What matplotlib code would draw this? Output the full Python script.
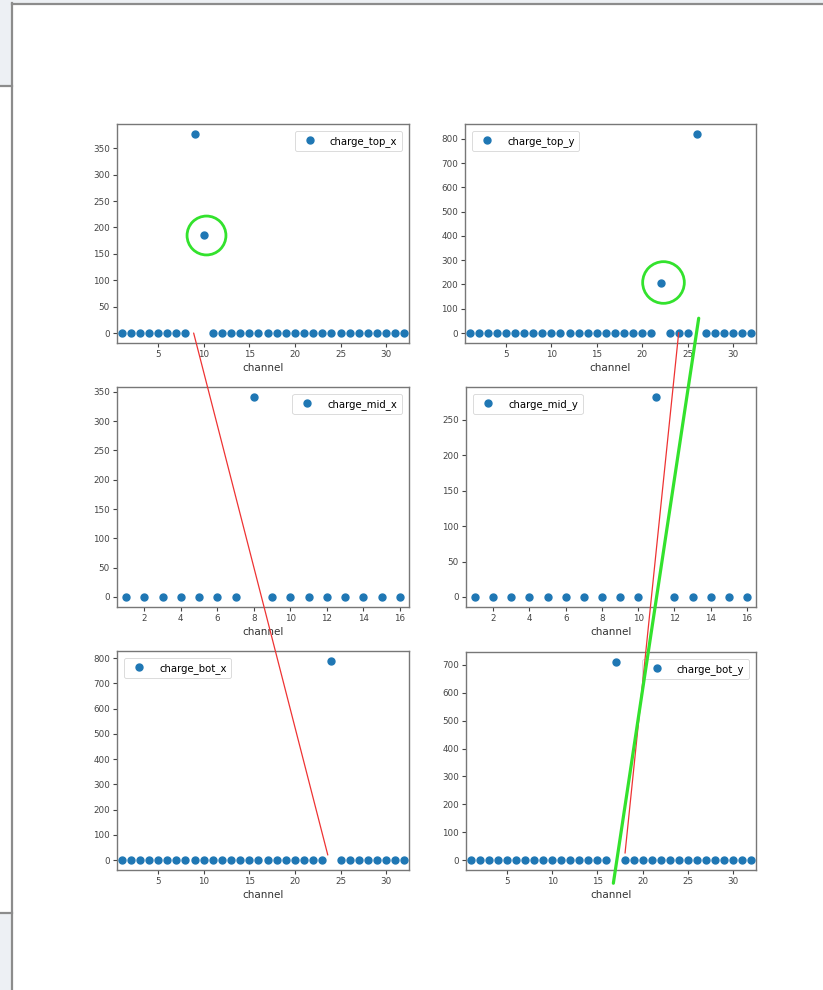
import matplotlib
matplotlib.use("Agg")
import matplotlib.pyplot as plt
from matplotlib.patches import ConnectionPatch, Rectangle
from matplotlib.lines import Line2D
from matplotlib.ticker import MultipleLocator

# ---------------- data ----------------
channels_32 = list(range(1, 33))
channels_16 = list(range(1, 17))

charge_top_x = [0, 0, 0, 0, 0, 0, 0, 0, 377, 186, 0, 0, 0, 0, 0, 0,
                0, 0, 0, 0, 0, 0, 0, 0, 0, 0, 0, 0, 0, 0, 0, 0]
charge_top_y = [0, 0, 0, 0, 0, 0, 0, 0, 0, 0, 0, 0, 0, 0, 0, 0,
                0, 0, 0, 0, 0, 207, 0, 0, 0, 820, 0, 0, 0, 0, 0, 0]
charge_mid_x = [0, 0, 0, 0, 0, 0, 0, 341, 0, 0, 0, 0, 0, 0, 0, 0]
charge_mid_y = [0, 0, 0, 0, 0, 0, 0, 0, 0, 0, 282, 0, 0, 0, 0, 0]
charge_bot_x = [0, 0, 0, 0, 0, 0, 0, 0, 0, 0, 0, 0, 0, 0, 0, 0,
                0, 0, 0, 0, 0, 0, 0, 789, 0, 0, 0, 0, 0, 0, 0, 0]
charge_bot_y = [0, 0, 0, 0, 0, 0, 0, 0, 0, 0, 0, 0, 0, 0, 0, 0,
                711, 0, 0, 0, 0, 0, 0, 0, 0, 0, 0, 0, 0, 0, 0, 0]

panels = [
    ("charge_top_x", channels_32, charge_top_x, "upper right", 50),
    ("charge_top_y", channels_32, charge_top_y, "upper left", 100),
    ("charge_mid_x", channels_16, charge_mid_x, "upper right", 50),
    ("charge_mid_y", channels_16, charge_mid_y, "upper left", 50),
    ("charge_bot_x", channels_32, charge_bot_x, "upper left", 100),
    ("charge_bot_y", channels_32, charge_bot_y, "upper right", 100),
]

# ---------------- figure ----------------
W, H = 823, 990
fig = plt.figure(figsize=(W / 100, H / 100), dpi=100)
fig.patch.set_facecolor("white")

def px_rect(l, t, r, b):
    return [l / W, 1 - b / H, (r - l) / W, (b - t) / H]

# screenshot window decoration
fig.add_artist(Rectangle((0, 1 - 86 / H), 12 / W, 86 / H, transform=fig.transFigure,
                         facecolor="#edf0f4", edgecolor="none", zorder=0))
fig.add_artist(Rectangle((0, 0), 12 / W, 1 - 913 / H, transform=fig.transFigure,
                         facecolor="#edf0f4", edgecolor="none", zorder=0))
fig.add_artist(Rectangle((12 / W, 1 - 3 / H), 1 - 12 / W, 3 / H, transform=fig.transFigure,
                         facecolor="#edf0f4", edgecolor="none", zorder=0))
frame_kw = dict(transform=fig.transFigure, color="#8c8c8c", lw=1.6, zorder=1)
fig.add_artist(Line2D([12 / W, 12 / W], [0, 1 - 3 / H], **frame_kw))
fig.add_artist(Line2D([12 / W, 1], [1 - 4 / H, 1 - 4 / H], **frame_kw))
fig.add_artist(Line2D([0, 12 / W], [1 - 86 / H, 1 - 86 / H], **frame_kw))
fig.add_artist(Line2D([0, 12 / W], [1 - 913 / H, 1 - 913 / H], **frame_kw))

rects = [
    px_rect(117, 124, 409, 343), px_rect(465, 124, 756, 343),
    px_rect(117, 387, 409, 607), px_rect(466, 387, 756, 607),
    px_rect(117, 651, 409, 870), px_rect(466, 652, 756, 870),
]

axes = []
for (name, ch, vals, loc, ystep), rect in zip(panels, rects):
    ax = fig.add_axes(rect)
    ax.plot(ch, vals, "o", color="#1f77b4", ms=5, label=name, zorder=3)
    ax.set_xlim(0.5, len(ch) + 0.5)
    ax.margins(y=0.05)
    ax.yaxis.set_major_locator(MultipleLocator(ystep))
    if len(ch) == 16:
        ax.xaxis.set_major_locator(MultipleLocator(2))
    else:
        ax.xaxis.set_major_locator(MultipleLocator(5))
    ax.set_xlabel("channel", fontsize=7.5, labelpad=2.5, color="#333333")
    ax.tick_params(labelsize=6.3, length=2.6, width=0.8, pad=2.5, colors="#444444")
    for sp in ax.spines.values():
        sp.set_color("#777777")
        sp.set_linewidth(1.0)
    leg = ax.legend(loc=loc, fontsize=7.3, numpoints=1, borderaxespad=0.7,
                    handletextpad=1.0, borderpad=0.45, framealpha=0.8)
    leg.get_frame().set_linewidth(0.6)
    axes.append(ax)

ax_tl, ax_tr, ax_ml, ax_mr, ax_bl, ax_br = axes

# ---------------- hand-drawn annotations ----------------
green = "#33e22d"
ax_tl.plot([10.3], [185], "o", ms=28, mfc="none", mec=green, mew=2.0, zorder=5, clip_on=False)
ax_tr.plot([22.3], [212], "o", ms=30, mfc="none", mec=green, mew=2.0, zorder=5, clip_on=False)

red1 = ConnectionPatch(xyA=(8.9, 0), coordsA="data", axesA=ax_tl,
                       xyB=(23.6, 20), coordsB="data", axesB=ax_bl,
                       color="#ee3333", lw=0.9, zorder=10)
red2 = ConnectionPatch(xyA=(24.0, 2), coordsA="data", axesA=ax_tr,
                       xyB=(18.05, 25), coordsB="data", axesB=ax_br,
                       color="#ee3333", lw=0.9, zorder=10)
grn = ConnectionPatch(xyA=(26.2, 61), coordsA="data", axesA=ax_tr,
                      xyB=(16.76, -83), coordsB="data", axesB=ax_br,
                      color=green, lw=2.3, zorder=11)
for c in (red1, red2, grn):
    c.set_annotation_clip(False)
    c.set_clip_on(False)
    fig.add_artist(c)

fig.savefig("out.png", dpi=100)
